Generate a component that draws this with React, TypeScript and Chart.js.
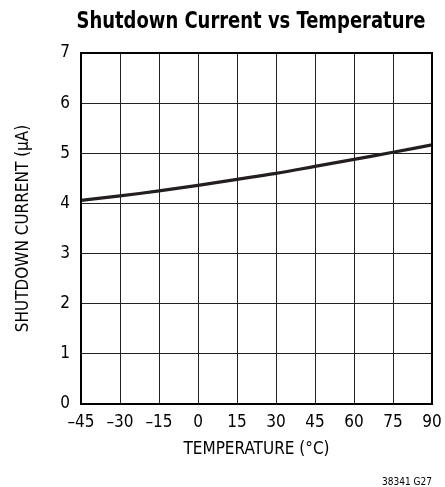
import React, { useEffect, useRef } from "react";
import { Chart, registerables } from "chart.js";

Chart.register(...registerables);

const temperatures = [-45, -30, -15, 0, 15, 30, 45, 60, 75, 90];
const shutdownCurrent = [4.06, 4.15, 4.25, 4.36, 4.48, 4.6, 4.74, 4.88, 5.02, 5.17];
const xTickValues = [-45, -30, -15, 0, 15, 30, 45, 60, 75, 90];
const xTickLabels = ["–45", "–30", "–15", "0", "15", "30", "45", "60", "75", "90"];
const yTickLabels = ["0", "1", "2", "3", "4", "5", "6", "7"];

const FONT = "'Liberation Sans Narrow', 'DejaVu Sans Condensed', 'Arial Narrow', sans-serif";

const decorPlugin = {
  id: "decor",
  afterDraw(chart: any) {
    const { ctx, chartArea } = chart;
    ctx.save();
    ctx.strokeStyle = "#000";
    ctx.lineWidth = 2;
    ctx.strokeRect(chartArea.left, chartArea.top, chartArea.right - chartArea.left, chartArea.bottom - chartArea.top);
    ctx.fillStyle = "#000";
    ctx.font = `bold 23px ${FONT}`;
    ctx.textAlign = "center";
    ctx.textBaseline = "alphabetic";
    ctx.fillText("Shutdown Current vs Temperature", 251, 28, 349);
    ctx.font = `11px ${FONT}`;
    ctx.textAlign = "right";
    ctx.fillText("38341 G27", 432, 485, 50);
    ctx.restore();
  },
};

export default function App() {
  const ref = useRef<HTMLCanvasElement | null>(null);
  useEffect(() => {
    if (!ref.current) return;
    const chart = new Chart(ref.current, {
      type: "line",
      data: {
        datasets: [
          {
            data: temperatures.map((t, i) => ({ x: t, y: shutdownCurrent[i] })),
            borderColor: "#231f20",
            borderWidth: 3.2,
            pointRadius: 0,
            tension: 0.4,
            fill: false,
          },
        ],
      },
      options: {
        responsive: false,
        animation: false,
        layout: { padding: { top: 53, left: 0, right: 13, bottom: 0 } },
        plugins: { legend: { display: false }, tooltip: { enabled: false }, title: { display: false } },
        scales: {
          x: {
            type: "linear",
            min: -45,
            max: 90,
            afterBuildTicks: (scale: any) => {
              scale.ticks = xTickValues.map((v) => ({ value: v }));
            },
            afterFit: (scale: any) => {
              scale.height = 83;
              scale.paddingLeft = 0;
              scale.paddingRight = 0;
            },
            grid: { color: "#222", lineWidth: 1, drawTicks: false },
            border: { display: false },
            ticks: {
              padding: 8,
              color: "#000",
              font: { family: FONT, size: 17 },
              maxRotation: 0,
              autoSkip: false,
              callback: (v: any) => {
                const i = xTickValues.indexOf(Number(v));
                return i >= 0 ? xTickLabels[i] : "";
              },
            },
            title: {
              display: true,
              text: "TEMPERATURE (°C)",
              color: "#000",
              font: { family: FONT, size: 17 },
              padding: { top: 0, bottom: 27 },
            },
          },
          y: {
            min: 0,
            max: 7,
            afterFit: (scale: any) => {
              scale.width = 81;
              scale.paddingTop = 0;
              scale.paddingBottom = 0;
            },
            grid: { color: "#222", lineWidth: 1, drawTicks: false },
            border: { display: false },
            ticks: {
              stepSize: 1,
              padding: 11,
              color: "#000",
              font: { family: FONT, size: 17 },
              callback: (v: any) => yTickLabels[Number(v)] ?? "",
            },
            title: {
              display: true,
              text: "SHUTDOWN CURRENT (µA)",
              color: "#000",
              font: { family: FONT, size: 17 },
              padding: { top: 13, bottom: 0 },
            },
          },
        },
      },
      plugins: [decorPlugin],
    });
    return () => chart.destroy();
  }, []);
  return (
    <div style={{ position: "fixed", left: 0, top: 0, width: 445, height: 487, background: "#fff" }}>
      <canvas ref={ref} width={445} height={487} style={{ display: "block" }} />
    </div>
  );
}
